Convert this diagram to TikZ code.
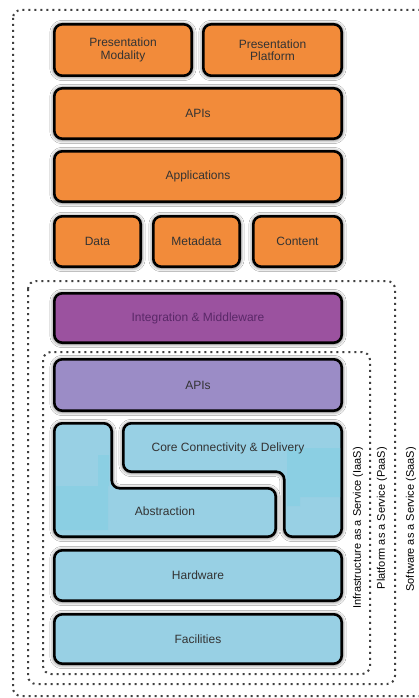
\documentclass[tikz,border=0pt]{standalone}
\usepackage{fontspec}
\setmainfont{Liberation Sans}
\usetikzlibrary{shadows.blur}
\definecolor{orng}{HTML}{F28B3A}
\definecolor{purp}{HTML}{9B529F}
\definecolor{lpurp}{HTML}{9B8CC6}
\definecolor{lblue}{HTML}{98D0E4}
\definecolor{sblue}{HTML}{8BCFE3}
\definecolor{txt}{HTML}{333333}
\definecolor{ptxt}{HTML}{5A2868}
\tikzset{
  blk/.style={draw=black, line width=2.6pt, rounded corners=8pt,
    blur shadow={shadow xshift=0pt, shadow yshift=-0.5pt, shadow blur radius=4.5pt, shadow opacity=80},
    font=\fontsize{12}{12.5}\selectfont, text=txt, inner sep=0pt, align=center},
  lbl/.style={font=\fontsize{12}{12.5}\selectfont, text=txt, inner sep=1pt},
  dotbox/.style={draw=black!75, line width=2pt, dash pattern=on 2pt off 4pt, rounded corners=8pt},
  side/.style={rotate=90, anchor=east, font=\fontsize{11}{11}\selectfont, text=black, inner sep=0pt}
}
\begin{document}
\begin{tikzpicture}[x=1pt,y=-1pt]
\useasboundingbox (0,0) rectangle (419,698);
\fill[white] (0,0) rectangle (419,698);
\begin{scope}
\clip (0,0) rectangle (419,698);
\draw[dotbox] (13,10) rectangle (440,696);
\end{scope}
\draw[dotbox] (28,281) rectangle (395,684);
\draw[dotbox] (43,352) rectangle (370,674);
% orange stack
\node[blk, fill=orng, minimum width=137.4, minimum height=51.4] (pm) at (123,50) {Presentation\\Modality};
\node[blk, fill=orng, minimum width=138.4, minimum height=51.4] (pp) at (272.5,50) {Presentation\\Platform};
\node[blk, fill=orng, minimum width=287.4, minimum height=50.4] (apis1) at (198,113.5) {APIs};
\node[blk, fill=orng, minimum width=287.4, minimum height=50.4] (apps) at (198,176.5) {Applications};
\node[blk, fill=orng, minimum width=86.4, minimum height=50.4] (data) at (97.5,241.5) {Data};
\node[blk, fill=orng, minimum width=86.4, minimum height=50.4] (meta) at (196.5,241.5) {Metadata};
\node[blk, fill=orng, minimum width=88.4, minimum height=50.4] (cont) at (297.5,241.5) {Content};
% purple
\node[blk, fill=purp, text=ptxt, minimum width=287.4, minimum height=49.4] (integ) at (198,318) {Integration \& Middleware};
\node[blk, fill=lpurp, minimum width=287.4, minimum height=51.4] (apis2) at (198,385) {APIs};
% L shapes
\draw[blk, fill=lblue] (54.3,423.3) -- (111.7,423.3) -- (111.7,488.3) -- (275.7,488.3) -- (275.7,536.7) -- (54.3,536.7) -- cycle;
\draw[blk, fill=lblue] (123.3,423.3) -- (341.7,423.3) -- (341.7,536.7) -- (284.3,536.7) -- (284.3,471.7) -- (123.3,471.7) -- cycle;
\fill[sblue] (98,455) rectangle (109,486) (56,486) rectangle (108,530);
\fill[sblue] (287,448) rectangle (340,497) (287,497) rectangle (300,506);
\node[lbl] (core) at (228,448) {Core Connectivity \& Delivery};
\node[lbl] (abs) at (165,511) {Abstraction};
% bottom
\node[blk, fill=lblue, minimum width=287.4, minimum height=50.4] (hw) at (198,575.5) {Hardware};
\node[blk, fill=lblue, minimum width=287.4, minimum height=49.4] (fac) at (198,639) {Facilities};
% side labels
\node[side] (iaas) at (358,447) {Infrastructure as a Service (IaaS)};
\node[side] (paas) at (382,447) {Platform as a Service (PaaS)};
\node[side] (saas) at (411,447) {Software as a Service (SaaS)};
\end{tikzpicture}
\end{document}
